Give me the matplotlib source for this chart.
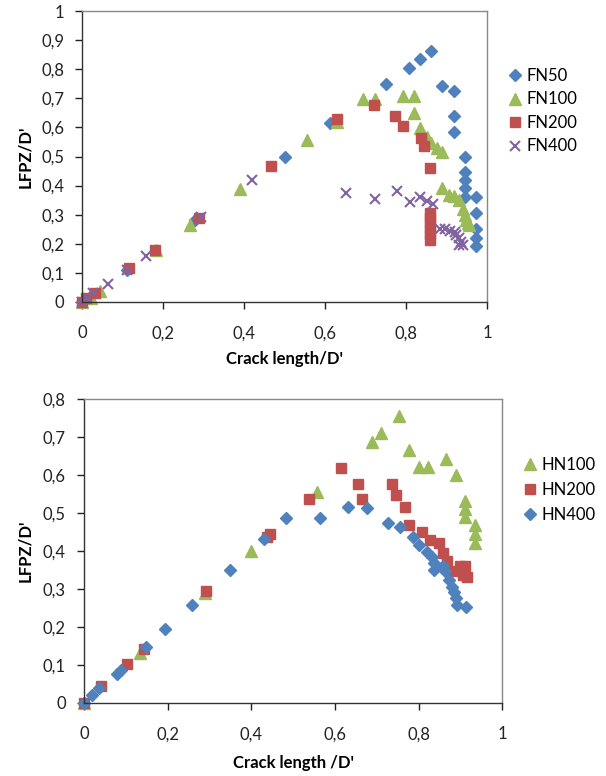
import matplotlib
matplotlib.use('Agg')
import matplotlib.pyplot as plt
from matplotlib.ticker import FuncFormatter, MultipleLocator

plt.rcParams['font.family'] = ['Lato', 'DejaVu Sans']

# top chart: F series (x = crack length/D', y = LFPZ/D')
fn50_x = [0, 0.01, 0.02, 0.109, 0.278, 0.5, 0.611, 0.749, 0.806, 0.833, 0.862,
          0.889, 0.918, 0.918, 0.918, 0.946, 0.946, 0.946, 0.946, 0.946,
          0.973, 0.973, 0.973, 0.973, 0.973]
fn50_y = [0, 0.01, 0.02, 0.111, 0.281, 0.5, 0.614, 0.75, 0.806, 0.834, 0.862,
          0.744, 0.725, 0.639, 0.583, 0.5, 0.447, 0.419, 0.39, 0.361,
          0.361, 0.304, 0.252, 0.221, 0.193]

fn100_x = [0, 0.02, 0.043, 0.181, 0.266, 0.389, 0.555, 0.628, 0.693, 0.724,
           0.792, 0.819, 0.819, 0.833, 0.85, 0.862, 0.876, 0.889, 0.889,
           0.906, 0.917, 0.93, 0.94, 0.944, 0.947, 0.953, 0.955]
fn100_y = [0, 0.015, 0.037, 0.18, 0.263, 0.388, 0.556, 0.62, 0.697, 0.697,
           0.709, 0.709, 0.651, 0.599, 0.568, 0.545, 0.528, 0.516, 0.39,
           0.367, 0.365, 0.35, 0.321, 0.298, 0.281, 0.27, 0.263]

fn200_x = [0, 0.01, 0.031, 0.116, 0.179, 0.288, 0.465, 0.628, 0.72, 0.772,
           0.792, 0.837, 0.843, 0.858, 0.858, 0.858, 0.858, 0.858, 0.858, 0.858]
fn200_y = [0, 0.014, 0.031, 0.117, 0.178, 0.287, 0.467, 0.63, 0.677, 0.64,
           0.604, 0.564, 0.536, 0.459, 0.304, 0.287, 0.27, 0.252, 0.235, 0.212]

fn400_x = [0, 0.012, 0.027, 0.064, 0.109, 0.158, 0.294, 0.419, 0.65, 0.722,
           0.776, 0.809, 0.835, 0.85, 0.865, 0.883, 0.895, 0.907, 0.92,
           0.924, 0.93, 0.936, 0.94, 0.93]
fn400_y = [0, 0.014, 0.031, 0.063, 0.111, 0.157, 0.292, 0.419, 0.375, 0.353,
           0.381, 0.342, 0.361, 0.346, 0.335, 0.252, 0.25, 0.244, 0.241,
           0.229, 0.218, 0.206, 0.195, 0.195]

# bottom chart: H series
hn100_x = [0, 0.134, 0.289, 0.4, 0.558, 0.688, 0.711, 0.754, 0.778, 0.8,
           0.822, 0.866, 0.889, 0.911, 0.911, 0.911, 0.935, 0.935, 0.935]
hn100_y = [0, 0.132, 0.288, 0.401, 0.555, 0.688, 0.712, 0.756, 0.665, 0.621,
           0.621, 0.643, 0.599, 0.533, 0.51, 0.489, 0.469, 0.445, 0.42]

hn200_x = [0, 0.04, 0.102, 0.144, 0.292, 0.437, 0.445, 0.537, 0.615, 0.656,
           0.666, 0.736, 0.746, 0.768, 0.778, 0.809, 0.828, 0.848, 0.858,
           0.868, 0.882, 0.9, 0.911, 0.907, 0.917]
hn200_y = [0, 0.044, 0.102, 0.141, 0.295, 0.438, 0.445, 0.536, 0.618, 0.577,
           0.536, 0.577, 0.548, 0.517, 0.469, 0.451, 0.429, 0.42, 0.394,
           0.374, 0.348, 0.361, 0.361, 0.337, 0.332]

hn400_x = [0, 0.02, 0.037, 0.078, 0.088, 0.148, 0.194, 0.259, 0.349, 0.431,
           0.483, 0.565, 0.631, 0.676, 0.727, 0.756, 0.786, 0.802, 0.821,
           0.832, 0.836, 0.837, 0.858, 0.864, 0.872, 0.88, 0.885, 0.89,
           0.892, 0.914]
hn400_y = [0, 0.02, 0.038, 0.076, 0.086, 0.148, 0.194, 0.258, 0.35, 0.431,
           0.486, 0.486, 0.515, 0.513, 0.475, 0.462, 0.438, 0.416, 0.398,
           0.385, 0.368, 0.35, 0.36, 0.346, 0.324, 0.306, 0.291, 0.275,
           0.258, 0.253]

BLUE = '#4F81BD'
RED = '#C0504D'
GREEN = '#9BBB59'
PURPLE = '#8064A2'

comma = FuncFormatter(lambda v, p: f'{v:.1f}'.rstrip('0').rstrip('.').replace('.', ','))


def style(ax, ymax):
    ax.set_xlim(0, 1)
    ax.set_ylim(0, ymax)
    ax.xaxis.set_major_locator(MultipleLocator(0.2))
    ax.yaxis.set_major_locator(MultipleLocator(0.1))
    ax.xaxis.set_major_formatter(comma)
    ax.yaxis.set_major_formatter(comma)
    ax.tick_params(direction='out', length=5, width=1, labelsize=12,
                   colors='#222222')
    ax.tick_params(axis='x', pad=12)
    ax.tick_params(axis='y', pad=8)
    for s in ['left', 'bottom']:
        ax.spines[s].set_color('#333333')
    for s in ['top', 'right']:
        ax.spines[s].set_color('#888888')
    for s in ax.spines.values():
        s.set_linewidth(1)


fig = plt.figure(figsize=(6.06, 7.76), dpi=100)

ax1 = fig.add_axes([0.136, 0.611, 0.668, 0.3746])
ax1.plot(fn50_x, fn50_y, 'D', color=BLUE, ms=6.5, mec=BLUE, label='FN50', clip_on=False)
ax1.plot(fn100_x, fn100_y, '^', color=GREEN, ms=8, mec=GREEN, label='FN100', clip_on=False)
ax1.plot(fn200_x, fn200_y, 's', color=RED, ms=7, mec=RED, label='FN200', clip_on=False)
ax1.plot(fn400_x, fn400_y, 'x', color=PURPLE, ms=7, mew=1.5, label='FN400', clip_on=False)
style(ax1, 1)
ax1.set_xlabel('Crack length/D\'', fontsize=12, fontweight='bold')
ax1.set_ylabel('LFPZ/D\'', fontsize=12, fontweight='bold')
ax1.xaxis.set_label_coords(0.5, -0.17)
ax1.yaxis.set_label_coords(-0.122, 0.5)
ax1.legend(loc='center left', bbox_to_anchor=(1.01, 0.656), frameon=False,
           fontsize=12, handletextpad=0.2, labelspacing=0.45, handlelength=1)

ax2 = fig.add_axes([0.1386, 0.0945, 0.69, 0.391])
ax2.plot(hn100_x, hn100_y, '^', color=GREEN, ms=8, mec=GREEN, label='HN100', clip_on=False)
ax2.plot(hn200_x, hn200_y, 's', color=RED, ms=7, mec=RED, label='HN200', clip_on=False)
ax2.plot(hn400_x, hn400_y, 'D', color=BLUE, ms=6.5, mec=BLUE, label='HN400', clip_on=False)
style(ax2, 0.8)
ax2.set_xlabel('Crack length /D\'', fontsize=12, fontweight='bold')
ax2.set_ylabel('LFPZ/D\'', fontsize=12, fontweight='bold')
ax2.xaxis.set_label_coords(0.5, -0.172)
ax2.yaxis.set_label_coords(-0.122, 0.5)
ax2.legend(loc='center left', bbox_to_anchor=(1.01, 0.701), frameon=False,
           fontsize=12, handletextpad=0.2, labelspacing=0.55, handlelength=1)

fig.savefig('out.png', dpi=100)
